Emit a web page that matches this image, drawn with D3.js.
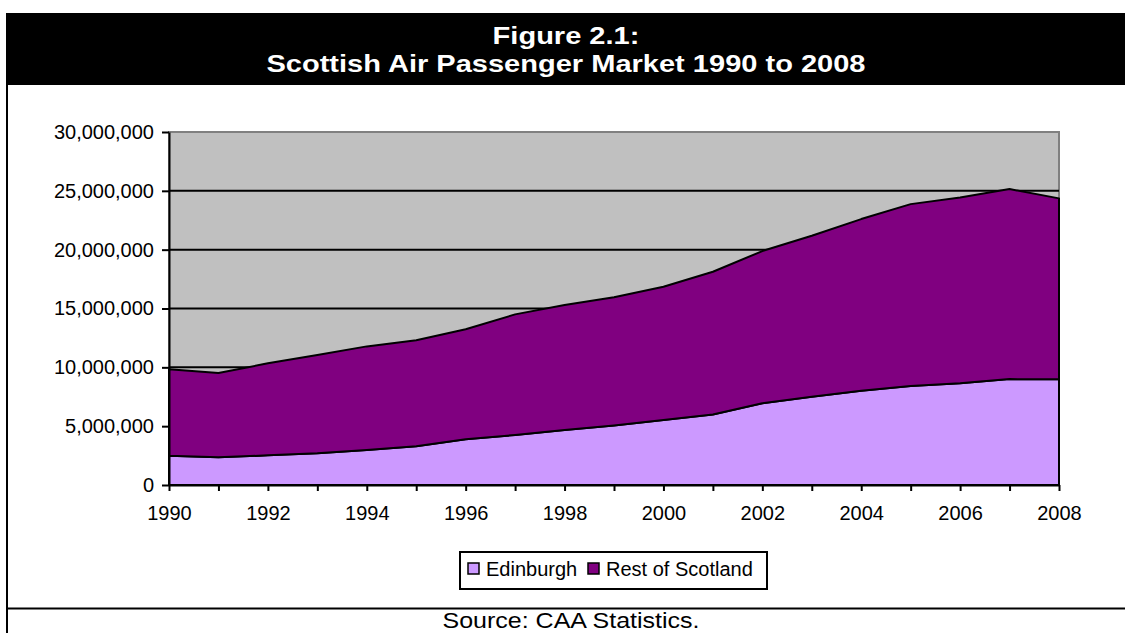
<!DOCTYPE html>
<html>
<head>
<meta charset="utf-8">
<script src="https://cdn.jsdelivr.net/npm/d3@7"></script>
<style>
  body { margin: 0; background: #fff; }
  svg { display: block; font-family: "Liberation Sans", Arial, sans-serif; }
</style>
</head>
<body>
<svg></svg>
<script>
const width = 1125, height = 633;

const years = d3.range(1990, 2009);
const edinburgh = [2490000, 2350000, 2520000, 2690000, 2970000, 3290000, 3880000, 4250000, 4670000, 5050000,
                   5520000, 6000000, 6940000, 7500000, 8010000, 8410000, 8640000, 9000000, 8980000];
const restOfScotland = [7340000, 7170000, 7820000, 8350000, 8810000, 9010000, 9350000, 10250000, 10620000, 10900000,
                        11330000, 12120000, 12940000, 13680000, 14590000, 15460000, 15800000, 16150000, 15380000];
const seriesNames = ["Edinburgh", "Rest of Scotland"];
const seriesColors = ["#cc99ff", "#800080"];
const yTicks = [0, 5000000, 10000000, 15000000, 20000000, 25000000, 30000000];
const xLabelYears = [1990, 1992, 1994, 1996, 1998, 2000, 2002, 2004, 2006, 2008];

const rows = years.map((yr, i) => ({year: yr, "Edinburgh": edinburgh[i], "Rest of Scotland": restOfScotland[i]}));

const svg = d3.select("svg").attr("width", width).attr("height", height);

// title banner (text is a bit wider than normal in the original)
svg.append("rect").attr("x", 6).attr("y", 13).attr("width", width - 6).attr("height", 72).attr("fill", "#000");
const titleLines = ["Figure 2.1:", "Scottish Air Passenger Market 1990 to 2008"];
svg.append("g").selectAll("text")
    .data(titleLines)
    .enter().append("text")
    .attr("transform", (d, i) => `translate(566,${44 + i * 28}) scale(1.21,1)`)
    .attr("text-anchor", "middle")
    .attr("fill", "#fff").attr("font-weight", "bold").attr("font-size", 24)
    .text(d => d);

// frame lines
svg.append("line").attr("x1", 7).attr("x2", 7).attr("y1", 85).attr("y2", height)
    .attr("stroke", "#000").attr("stroke-width", 2);
svg.append("line").attr("x1", 7).attr("x2", width).attr("y1", 608.5).attr("y2", 608.5)
    .attr("stroke", "#000").attr("stroke-width", 2);

const x = d3.scaleLinear().domain([1990, 2008]).range([169, 1059]);
const y = d3.scaleLinear().domain([0, 30000000]).range([485, 132]);

// plot area
svg.append("rect").attr("x", x(1990)).attr("y", y(30000000))
    .attr("width", x(2008) - x(1990)).attr("height", y(0) - y(30000000))
    .attr("fill", "#c0c0c0").attr("stroke", "#808080").attr("stroke-width", 2);

svg.append("g").selectAll("line")
    .data(yTicks.filter(d => d > 0 && d < 30000000))
    .enter().append("line")
    .attr("x1", x(1990)).attr("x2", x(2008))
    .attr("y1", d => y(d)).attr("y2", d => y(d))
    .attr("stroke", "#000").attr("stroke-width", 2);

const stack = d3.stack().keys(seriesNames);
const layers = stack(rows);

const area = d3.area()
    .x(d => x(d.data.year))
    .y0(d => y(d[0]))
    .y1(d => y(d[1]));

svg.append("g").selectAll("path")
    .data(layers)
    .enter().append("path")
    .attr("d", area)
    .attr("fill", (d, i) => seriesColors[i])
    .attr("stroke", "#000").attr("stroke-width", 2).attr("stroke-linejoin", "round");

// axes
const yAxis = svg.append("g").attr("transform", `translate(${x(1990)},0)`)
    .call(d3.axisLeft(y).tickValues(yTicks).tickFormat(d3.format(",")).tickSize(7).tickPadding(8).tickSizeOuter(0));
const xAxis = svg.append("g").attr("transform", `translate(0,${y(0)})`)
    .call(d3.axisBottom(x).tickValues(years).tickFormat(d => xLabelYears.includes(d) ? String(d) : "")
        .tickSize(6).tickPadding(15).tickSizeOuter(0));

[yAxis, xAxis].forEach(g => {
    g.select(".domain").attr("stroke", "#000").attr("stroke-width", 2);
    g.selectAll(".tick line").attr("stroke", "#000").attr("stroke-width", 2);
    g.selectAll(".tick text").attr("fill", "#000").attr("font-size", 20)
        .attr("font-family", "Liberation Sans, Arial, sans-serif");
});

// legend
const legend = svg.append("g");
legend.append("rect").attr("x", 460).attr("y", 552).attr("width", 307).attr("height", 37)
    .attr("fill", "#fff").attr("stroke", "#000").attr("stroke-width", 2);
const legendItems = [{name: seriesNames[0], color: seriesColors[0], x: 468}, {name: seriesNames[1], color: seriesColors[1], x: 588}];
legendItems.forEach(d => {
    legend.append("rect").attr("x", d.x).attr("y", 563).attr("width", 11).attr("height", 11)
        .attr("fill", d.color).attr("stroke", "#000").attr("stroke-width", 1.5);
    legend.append("text").attr("x", d.x + 18).attr("y", 576).attr("font-size", 20).attr("fill", "#000").text(d.name);
});

// source note
svg.append("text").attr("x", 571).attr("y", 628).attr("text-anchor", "middle")
    .attr("font-size", 22).attr("fill", "#000")
    .attr("textLength", 257).attr("lengthAdjust", "spacingAndGlyphs")
    .text("Source: CAA Statistics.");
</script>
</body>
</html>
